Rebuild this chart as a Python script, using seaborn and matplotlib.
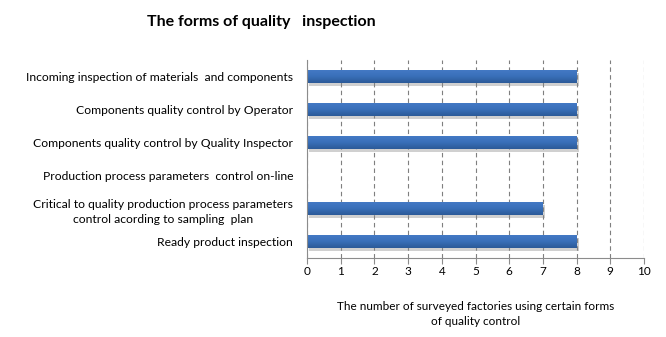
import matplotlib
matplotlib.use("Agg")
import matplotlib.pyplot as plt
import matplotlib.patheffects as pe
from matplotlib.colors import LinearSegmentedColormap
import numpy as np
import seaborn as sns
import pandas as pd

categories = [
    "Incoming inspection of materials  and components",
    "Components quality control by Operator",
    "Components quality control by Quality Inspector",
    "Production process parameters  control on-line",
    "Critical to quality production process parameters\ncontrol acording to sampling  plan",
    "Ready product inspection",
]
values = [8, 8, 8, 0, 7, 8]
x_ticks = list(range(0, 11))

title = "The forms of quality   inspection"
xlabel = "The number of surveyed factories using certain forms\nof quality control"

df = pd.DataFrame({"category": categories, "value": values})

sns.set_theme(style="white")
plt.rcParams["font.family"] = ["Lato", "DejaVu Sans"]
plt.rcParams["text.color"] = "black"

fig = plt.figure(figsize=(6.66, 3.37), dpi=100)
ax = fig.add_axes([307 / 666, 1 - 258 / 337, (644 - 307) / 666, (258 - 60) / 337])

sns.barplot(data=df, x="value", y="category", orient="h", color="#3C6FB5",
            width=0.4, ax=ax, saturation=1, edgecolor="none", linewidth=0)

grad_cmap = LinearSegmentedColormap.from_list("bar", ["#457ac6", "#3A70BA", "#2C5A98"])
grad = np.linspace(0, 1, 64).reshape(-1, 1)
for p in list(ax.patches):
    w = p.get_width()
    if w <= 0:
        continue
    x0, y0 = p.get_x(), p.get_y()
    h = p.get_height()
    p.set_path_effects([pe.SimplePatchShadow(offset=(1.5, -2), shadow_rgbFace="#8a8a8a", alpha=0.4), pe.Normal()])
    im = ax.imshow(grad, cmap=grad_cmap, aspect="auto", extent=(x0, x0 + w, y0 + h, y0),
                   origin="upper", zorder=p.get_zorder() + 0.1, interpolation="bilinear")
    im.set_clip_path(p)

ax.set_xlim(0, 10)
ax.set_ylim(5.5, -0.5)
ax.set_xticks(x_ticks)
ax.set_xticklabels([str(t) for t in x_ticks], fontsize=8.5, color="#000000")
ax.xaxis.grid(True, linestyle=(0, (4, 3)), color="#7f7f7f", linewidth=0.8)
ax.set_axisbelow(True)
ax.tick_params(axis="x", which="both", bottom=True, length=4, width=0.8, color="#8c8c8c", pad=2)
ax.tick_params(axis="y", left=False, length=0, pad=10)
for lbl in ax.get_yticklabels():
    lbl.set_fontsize(8.75)
    lbl.set_color("#000000")
    lbl.set_horizontalalignment("right")
    lbl.set_multialignment("center")
    lbl.set_linespacing(1.45)
ax.set_ylabel("")
ax.set_xlabel(xlabel, fontsize=8.5, labelpad=17, color="#000000", linespacing=1.5)
for s in ["top", "right"]:
    ax.spines[s].set_visible(False)
for s in ["left", "bottom"]:
    ax.spines[s].set_color("#8c8c8c")
    ax.spines[s].set_linewidth(0.8)

fig.text(261 / 666, 1 - 22 / 337, title, ha="center", va="center", fontsize=11.5, fontweight="bold", color="black")

fig.savefig("out.png", dpi=100, facecolor="white")
